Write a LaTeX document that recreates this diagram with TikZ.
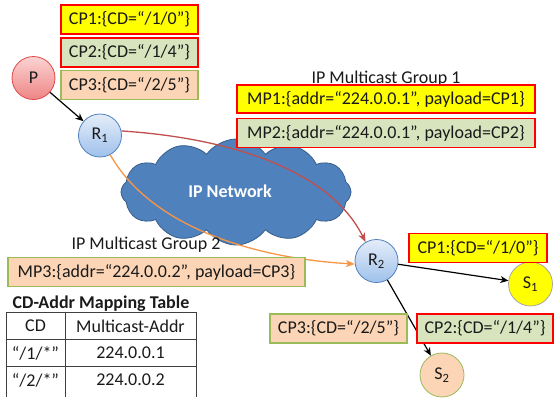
\documentclass[tikz,border=0pt]{standalone}
\usepackage{fontspec}
\setmainfont{Carlito}
\usetikzlibrary{shapes.symbols,arrows.meta}
\definecolor{ylw}{HTML}{FFFF00}
\definecolor{grnfill}{HTML}{D7E4BD}
\definecolor{orgfill}{HTML}{FBD5B5}
\definecolor{grnline}{HTML}{9BBB59}
\definecolor{redline}{HTML}{FF0000}
\definecolor{cloudfill}{HTML}{4F81BD}
\definecolor{clouddraw}{HTML}{385D8A}
\definecolor{arcred}{HTML}{C0504D}
\definecolor{arcorg}{HTML}{F79646}
\definecolor{rtop}{HTML}{E4EDF9}
\definecolor{rbot}{HTML}{9FC1EB}
\definecolor{rdraw}{HTML}{4F81BD}
\definecolor{ptop}{HTML}{FBD3D3}
\definecolor{pbot}{HTML}{EE8585}
\definecolor{pdraw}{HTML}{E04848}
\definecolor{txt}{HTML}{1A1A1A}
\tikzset{
  fnt/.style={font=\fontsize{18}{20}\selectfont, text=txt},
  boxy/.style={fnt, draw=redline, line width=1.6pt, fill=ylw, minimum height=29pt, inner sep=0pt},
  boxg/.style={fnt, draw=redline, line width=1.6pt, fill=grnfill, minimum height=29pt, inner sep=0pt},
  boxo/.style={fnt, draw=grnline, line width=1.3pt, fill=orgfill, minimum height=29pt, inner sep=0pt},
  router/.style={fnt, circle, draw=rdraw, line width=0.8pt, top color=rtop, bottom color=rbot, minimum size=43pt, inner sep=0pt},
  lbl/.style={fnt, inner sep=0pt},
  blk/.style={-{Stealth[length=8pt,width=7pt,inset=2.5pt]}, line width=1.2pt, black},
}
\begin{document}
\begin{tikzpicture}[x=1pt,y=-1pt]
\useasboundingbox (0,0) rectangle (554,397);
% cloud
\node[cloud, cloud puffs=12, cloud puff arc=110, aspect=2.1, draw=clouddraw, line width=0.8pt, fill=cloudfill, minimum width=230pt, minimum height=106pt, inner sep=0pt] (cloud) at (236,192) {};
\node[font=\fontsize{18}{20}\selectfont\bfseries, text=white] (ipn) at (230,191) {IP Network};
% nodes
\node[fnt, circle, draw=pdraw, line width=0.8pt, top color=ptop, bottom color=pbot, minimum size=43pt, inner sep=0pt] (P) at (33.5,78) {P};
\node[router] (R1) at (100,135.5) {R\textsubscript{1}};
\node[router] (R2) at (376.5,261) {R\textsubscript{2}};
\node[fnt, circle, draw=gray!70, line width=0.8pt, fill=ylw, minimum size=44pt, inner sep=0pt] (S1) at (530.5,284) {S\textsubscript{1}};
\node[fnt, circle, draw=grnline, line width=0.8pt, fill=orgfill, minimum size=44pt, inner sep=0pt] (S2) at (442,375) {S\textsubscript{2}};
% arcs
\draw[arcred, line width=1.3pt, -{Stealth[length=9pt,width=7pt,inset=2.5pt]}] (R1.12) .. controls (230,138) and (330,170) .. (R2.120);
\draw[arcorg, line width=1.3pt, -{Stealth[length=9pt,width=7pt,inset=2.5pt]}] (R1.-62) .. controls (150,225) and (250,258) .. (R2.188);
% black arrows
\draw[blk] (P) -- (R1);
\draw[blk] (R2) -- (S1);
\draw[blk] (R2) -- (S2);
% boxes
\node[boxy, minimum width=137pt] (cp1a) at (129.5,19.5) {CP1:\{CD=“/1/0”\}};
\node[boxg, minimum width=137pt] (cp2a) at (129.5,52.5) {CP2:\{CD=“/1/4”\}};
\node[boxo, minimum width=137pt] (cp3a) at (129.5,85) {CP3:\{CD=“/2/5”\}};
\node[lbl] (g1) at (386,79) {IP Multicast Group 1};
\node[boxy, minimum width=298pt, minimum height=28pt] (mp1) at (386,99) {MP1:\{addr=“224.0.0.1”, payload=CP1\}};
\node[boxg, minimum width=298pt] (mp2) at (386,133) {MP2:\{addr=“224.0.0.1”, payload=CP2\}};
\node[lbl] (g2) at (146,245) {IP Multicast Group 2};
\node[boxo, minimum width=297pt] (mp3) at (156.5,272) {MP3:\{addr=“224.0.0.2”, payload=CP3\}};
\node[boxy, minimum width=138pt] (cp1b) at (478,248) {CP1:\{CD=“/1/0”\}};
\node[boxo, minimum width=137pt] (cp3b) at (338.5,328.5) {CP3:\{CD=“/2/5”\}};
\node[boxg, minimum width=136pt] (cp2b) at (485,328.5) {CP2:\{CD=“/1/4”\}};
% table
\node[font=\fontsize{18}{20}\selectfont\bfseries, text=txt] (ttl) at (101,304) {CD-Addr Mapping Table};
\draw[line width=0.7pt, black!75] (6,397) -- (6,312) -- (196,312) -- (196,397);
\draw[line width=0.7pt, black!75] (65,312) -- (65,397);
\draw[line width=0.7pt, black!75] (6,339) -- (196,339);
\draw[line width=0.7pt, black!75] (6,366) -- (196,366);
\node[lbl] (h1) at (35.5,326) {CD};
\node[lbl] (h2) at (130.5,326) {Multicast-Addr};
\node[lbl] (a1) at (35.5,353) {“/1/*”};
\node[lbl] (b1) at (130.5,353) {224.0.0.1};
\node[lbl] (a2) at (35.5,380) {“/2/*”};
\node[lbl] (b2) at (130.5,380) {224.0.0.2};
\end{tikzpicture}
\end{document}
